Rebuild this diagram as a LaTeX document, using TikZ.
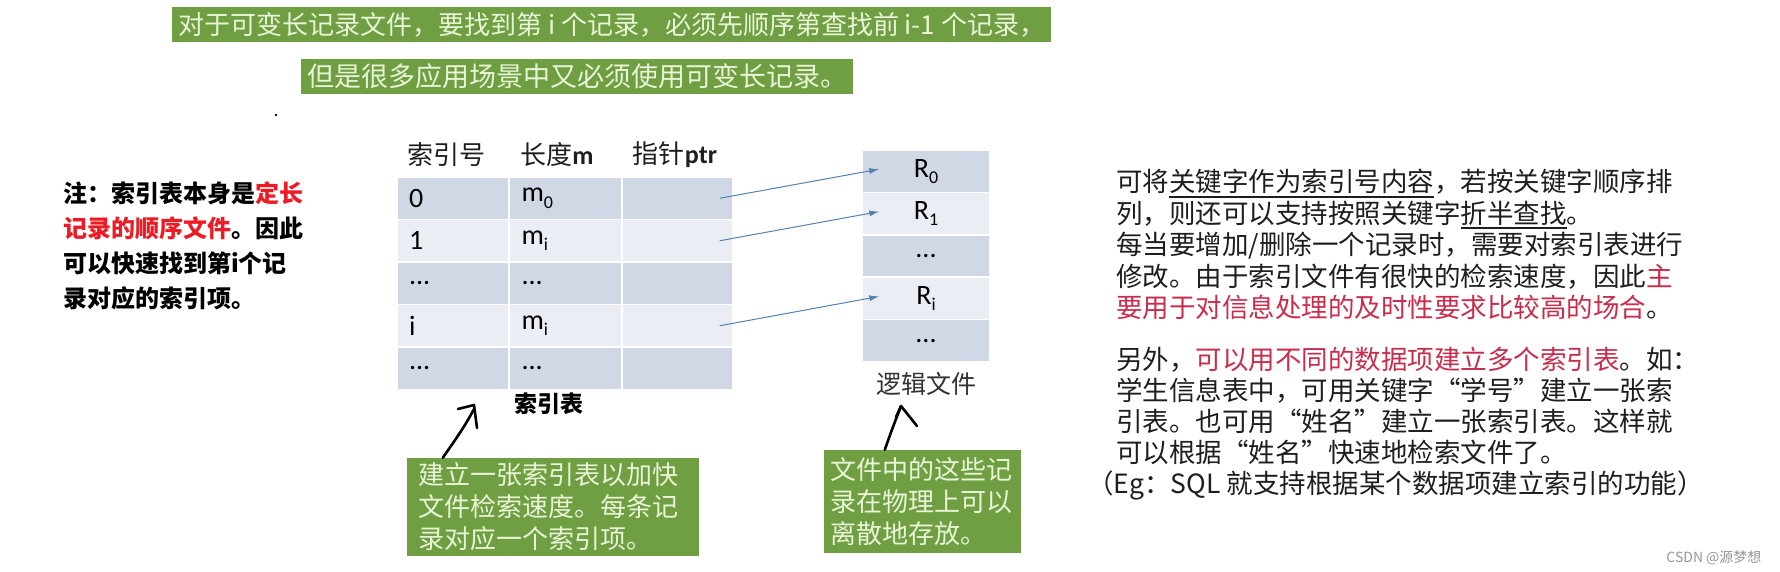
\documentclass[tikz,border=0pt]{standalone}
\usepackage{fontspec}
\setmainfont{Noto Sans CJK SC}
\newfontfamily\lat{Carlito}
\usetikzlibrary{arrows.meta}

\definecolor{bannergreen}{RGB}{112,158,66}
\definecolor{bannertext}{RGB}{232,245,214}
\definecolor{celldark}{RGB}{208,216,230}
\definecolor{celllight}{RGB}{234,238,244}
\definecolor{ptrblue}{RGB}{84,130,180}
\definecolor{labelgray}{RGB}{50,50,50}
\definecolor{bodytext}{RGB}{30,30,30}
\definecolor{notered}{RGB}{237,28,36}
\definecolor{textred}{RGB}{200,45,75}
\definecolor{markgray}{RGB}{150,150,150}

\newcommand\subtxt[1]{\raisebox{-0.22em}{\fontsize{18}{18}\selectfont #1}}
\newcommand\moredots{...}
\newcommand\keyline[1]{\setbox0\hbox{#1}\rlap{\rule[-6pt]{\wd0}{1.8pt}}\box0}
\newcommand\opq{\makebox[1em][r]{“}}
\newcommand\clq{\makebox[1em][l]{”}}

\tikzset{
  banner/.style={fill=bannergreen, text=bannertext, inner xsep=6pt, inner ysep=0pt,
    minimum height=35pt, font=\fontsize{26}{26}\selectfont},
  cell/.style={draw=white, line width=1.5pt, minimum height=42.5pt, inner xsep=12pt,
    text width=88pt, align=left, font=\lat\fontsize{28}{28}\selectfont},
  rec/.style={draw=white, line width=1.5pt, minimum width=128pt, minimum height=42.4pt,
    font=\lat\fontsize{28}{28}\selectfont},
  head/.style={font=\fontsize{26}{26}\selectfont, text=bodytext},
  ptr/.style={-{Latex[length=10pt,width=6pt]}, draw=ptrblue, line width=1pt},
  hand/.style={line width=2.6pt, line cap=round, line join=round},
  note/.style={fill=bannergreen, text=bannertext, align=left, inner xsep=0pt, inner ysep=0pt,
    font=\fontsize{26}{32}\selectfont}
}

\begin{document}
\begin{tikzpicture}[x=1pt,y=-1pt]
  \fill[white] (0,0) rectangle (1780,572);
  \useasboundingbox (0,0) rectangle (1780,572);

  % banners on top
  \node[banner, anchor=west] (ban1) at (172,25)
    {对于可变长记录文件，要找到第 i 个记录，必须先顺序第查找前 i-1 个记录，};
  \node[banner, anchor=west, font=\fontsize{27}{27}\selectfont] (ban2) at (301,76.5)
    {但是很多应用场景中又必须使用可变长记录。};
  \fill (276,115) circle (1.3pt);

  % note on the left
  \node[anchor=north west, align=left, inner sep=0pt,
        font=\bfseries\fontsize{24}{35}\selectfont] (memo) at (63,181)
    {注：索引表本身是\textcolor{notered}{定长}\\
     \textcolor{notered}{记录的顺序文件}。因此\\
     可以快速找到第i个记\\
     录对应的索引项。};

  % index table
  \node[head] (hIdx) at (446,155) {索引号};
  \node[head] (hLen) at (557,155) {长度{\lat\bfseries m}};
  \node[head] (hPtr) at (675,155) {指针{\lat\bfseries ptr}};
  \foreach \r/\a/\b/\col in {1/0/m\subtxt{0}/celldark, 2/1/m\subtxt{i}/celllight,
                             3/\moredots/\moredots/celldark, 4/i/m\subtxt{i}/celllight,
                             5/\moredots/\moredots/celldark} {
    \pgfmathsetmacro\yy{177+(\r-0.5)*42.5}
    \node[cell, fill=\col] (k\r) at (453,\yy) {\a};
    \node[cell, fill=\col] (m\r) at (565.5,\yy) {\b};
    \node[cell, fill=\col, text width=87pt] (p\r) at (677.5,\yy) {};
  }
  \node[font=\bfseries\fontsize{23}{23}\selectfont] (tname) at (549,404) {索引表};

  % logical file
  \foreach \r/\t/\col in {1/R\subtxt{0}/celldark, 2/R\subtxt{1}/celllight,
                          3/\moredots/celldark, 4/R\subtxt{i}/celllight, 5/\moredots/celldark} {
    \pgfmathsetmacro\yy{150+(\r-0.5)*42.4}
    \node[rec, fill=\col] (r\r) at (926,\yy) {\t};
  }
  \node[font=\fontsize{25}{25}\selectfont, text=labelgray] (fname) at (926,384) {逻辑文件};

  \foreach \i in {1,2,4}
    \draw[ptr] ([xshift=-14pt]p\i.east) -- ([xshift=18pt,yshift=2pt]r\i.west);

  % green notes below
  \node[note, text width=270pt, minimum width=292pt, minimum height=98pt] (boxL) at (553,507)
    {建立一张索引表以加快\\文件检索速度。每条记\\录对应一个索引项。};
  \node[note, text width=184pt, minimum width=197pt, minimum height=103pt] (boxR) at (922.5,501.5)
    {文件中的这些记\\录在物理上可以\\离散地存放。};

  % hand drawn arrows
  \coordinate (tipL) at (474,409);
  \draw[hand] ([xshift=36pt]boxL.north west) .. controls (455,440) and (464,428) .. (tipL);
  \draw[hand] ([xshift=-16pt]tipL) -- ([yshift=4pt]tipL) -- ([xshift=3pt,yshift=-19pt]tipL);
  \coordinate (tipR) at (901,406);
  \draw[hand] ([xshift=61pt]boxR.north west) .. controls (891,432) .. (tipR);
  \draw[hand] ([xshift=-5pt,yshift=-11pt]tipR) -- (tipR) -- ([xshift=16pt,yshift=-20pt]tipR);

  % text on the right
  \node[anchor=north west, align=left, inner sep=0pt, text=bodytext,
        font=\fontsize{26.5}{31.5}\selectfont] (txtA) at (1116,169)
    {可将\keyline{关键字作为索引号内容}，若按关键字顺序排\\
     列，则还可以支持按照关键字\keyline{折半查找}。\\
     每当要增加/删除一个记录时，需要对索引表进行\\
     修改。由于索引文件有很快的检索速度，因此\textcolor{textred}{主}\\
     \textcolor{textred}{要用于对信息处理的及时性要求比较高的场合}。};
  \node[anchor=north west, align=left, inner sep=0pt, text=bodytext,
        font=\fontsize{26.5}{31}\selectfont] (txtB) at (1116,347)
    {另外，\textcolor{textred}{可以用不同的数据项建立多个索引表}。如：\\
     学生信息表中，可用关键字\opq 学号\clq 建立一张索\\
     引表。也可用\opq 姓名\clq 建立一张索引表。这样就\\
     可以根据\opq 姓名\clq 快速地检索文件了。\\
     \hspace*{-29pt}（Eg：SQL 就支持根据某个数据项建立索引的功能）};

  \node[anchor=east, font=\fontsize{14}{14}\selectfont, text=markgray] (mark) at (1765,558)
    {CSDN @源梦想};
\end{tikzpicture}
\end{document}
